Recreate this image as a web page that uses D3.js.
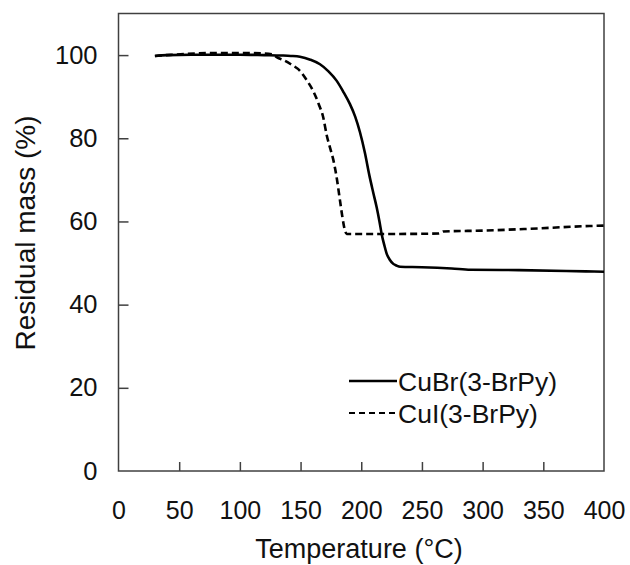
<!DOCTYPE html>
<html>
<head>
<meta charset="utf-8">
<script src="https://cdn.jsdelivr.net/npm/d3@7"></script>
<style>
  html, body { margin: 0; padding: 0; background: #fff; }
  svg { display: block; font-family: Arial, "Liberation Sans", sans-serif; }
</style>
</head>
<body>
<svg id="chart" width="630" height="565"></svg>
<script>
// TGA curves: residual mass (%) against temperature (°C)
const cuBrTemp = [30, 40, 60, 80, 100, 120, 135, 142, 149.5, 158, 166, 173, 179.8, 185, 190.7, 195, 198.9, 203, 206.6, 210, 212.7, 215, 216.8, 219, 221, 223.5, 226.4, 229, 232, 250, 274.5, 290, 330, 369, 385, 400];
const cuBrMass = [99.8, 100, 100.1, 100.1, 100.1, 100, 99.9, 99.8, 99.6, 98.9, 97.8, 96.1, 93.8, 91.3, 88.2, 85.2, 81.5, 76.5, 71.2, 66.8, 63.4, 60.0, 57.0, 54.3, 52.2, 50.8, 49.8, 49.4, 49.1, 49.0, 48.7, 48.4, 48.3, 48.1, 48.0, 47.9];

const cuITemp = [30, 40, 64, 80, 100, 120, 127.5, 130.3, 136, 142, 149.5, 155, 160.5, 165, 168.7, 171.5, 174.5, 177, 179.5, 182.5, 184.5, 186.6, 188, 200, 230, 264, 267.6, 300, 336, 388, 400];
const cuIMass = [99.8, 100, 100.4, 100.5, 100.5, 100.4, 100.1, 99.5, 98.8, 97.8, 96.2, 94.0, 91.3, 88.2, 85.0, 80.8, 77.5, 74.8, 71.0, 65.0, 61.0, 57.8, 57.0, 57.0, 57.0, 57.1, 57.6, 57.8, 58.2, 58.9, 59.0];

const seriesNames = ["CuBr(3-BrPy)", "CuI(3-BrPy)"];
const xTicks = [0, 50, 100, 150, 200, 250, 300, 350, 400];
const yTicks = [0, 20, 40, 60, 80, 100];

const svg = d3.select("#chart");
const plot = { left: 118.5, right: 604, top: 13.5, bottom: 471 };

const x = d3.scaleLinear().domain([0, 400]).range([plot.left, plot.right]);
const y = d3.scaleLinear().domain([0, 110]).range([plot.bottom, plot.top]);

const frameColor = "#404040";
const fontStack = "Arial, 'Liberation Sans', sans-serif";

// plot frame
svg.append("rect")
  .attr("x", plot.left).attr("y", plot.top)
  .attr("width", plot.right - plot.left).attr("height", plot.bottom - plot.top)
  .attr("fill", "none").attr("stroke", frameColor).attr("stroke-width", 1.5);

// x axis: inward ticks, labels below
const xAxis = d3.axisBottom(x).tickValues(xTicks).tickSize(-9).tickPadding(30)
  .tickFormat(d3.format("d"));
const gx = svg.append("g").attr("transform", `translate(0,${plot.bottom})`).call(xAxis);
gx.select(".domain").remove();
gx.selectAll(".tick line").attr("stroke", frameColor).attr("stroke-width", 1.5)
  .filter(d => d === 0 || d === 400).remove();
gx.selectAll(".tick text").attr("font-size", 25).attr("fill", "#111")
  .attr("font-family", fontStack);

// y axis: inward ticks, labels left
const yAxis = d3.axisLeft(y).tickValues(yTicks).tickSize(-10).tickPadding(21)
  .tickFormat(d3.format("d"));
const gy = svg.append("g").attr("transform", `translate(${plot.left},0)`).call(yAxis);
gy.select(".domain").remove();
gy.selectAll(".tick line").attr("stroke", frameColor).attr("stroke-width", 1.5)
  .filter(d => d === 0).remove();
gy.selectAll(".tick text").attr("font-size", 25.5).attr("fill", "#111")
  .attr("font-family", fontStack);

// axis titles
svg.append("text")
  .attr("x", 359).attr("y", 558)
  .attr("text-anchor", "middle").attr("font-size", 27).attr("fill", "#111")
  .text("Temperature (°C)");
svg.append("text")
  .attr("transform", `translate(35,233) rotate(-90)`)
  .attr("text-anchor", "middle").attr("font-size", 28).attr("fill", "#111")
  .text("Residual mass (%)");

// curves
const line = d3.line().x(d => x(d[0])).y(d => y(d[1])).curve(d3.curveMonotoneX);
const cuBrData = d3.zip(cuBrTemp, cuBrMass);
const cuIData = d3.zip(cuITemp, cuIMass);

svg.append("path").datum(cuIData)
  .attr("d", line).attr("fill", "none").attr("stroke", "#000")
  .attr("stroke-width", 2.6).attr("stroke-dasharray", "7,4");
svg.append("path").datum(cuBrData)
  .attr("d", line).attr("fill", "none").attr("stroke", "#000")
  .attr("stroke-width", 2.6);

// legend
const legend = svg.append("g");
const legendRows = [
  { name: seriesNames[0], dash: null, y: 381 },
  { name: seriesNames[1], dash: "6,4", y: 413 }
];
legendRows.forEach(r => {
  legend.append("line")
    .attr("x1", 349).attr("x2", 397).attr("y1", r.y).attr("y2", r.y)
    .attr("stroke", "#000").attr("stroke-width", r.dash ? 2 : 2.6)
    .attr("stroke-dasharray", r.dash);
  legend.append("text")
    .attr("x", 398).attr("y", r.y).attr("dy", "0.36em")
    .attr("font-size", 26.5).attr("fill", "#111")
    .text(r.name);
});
</script>
</body>
</html>
